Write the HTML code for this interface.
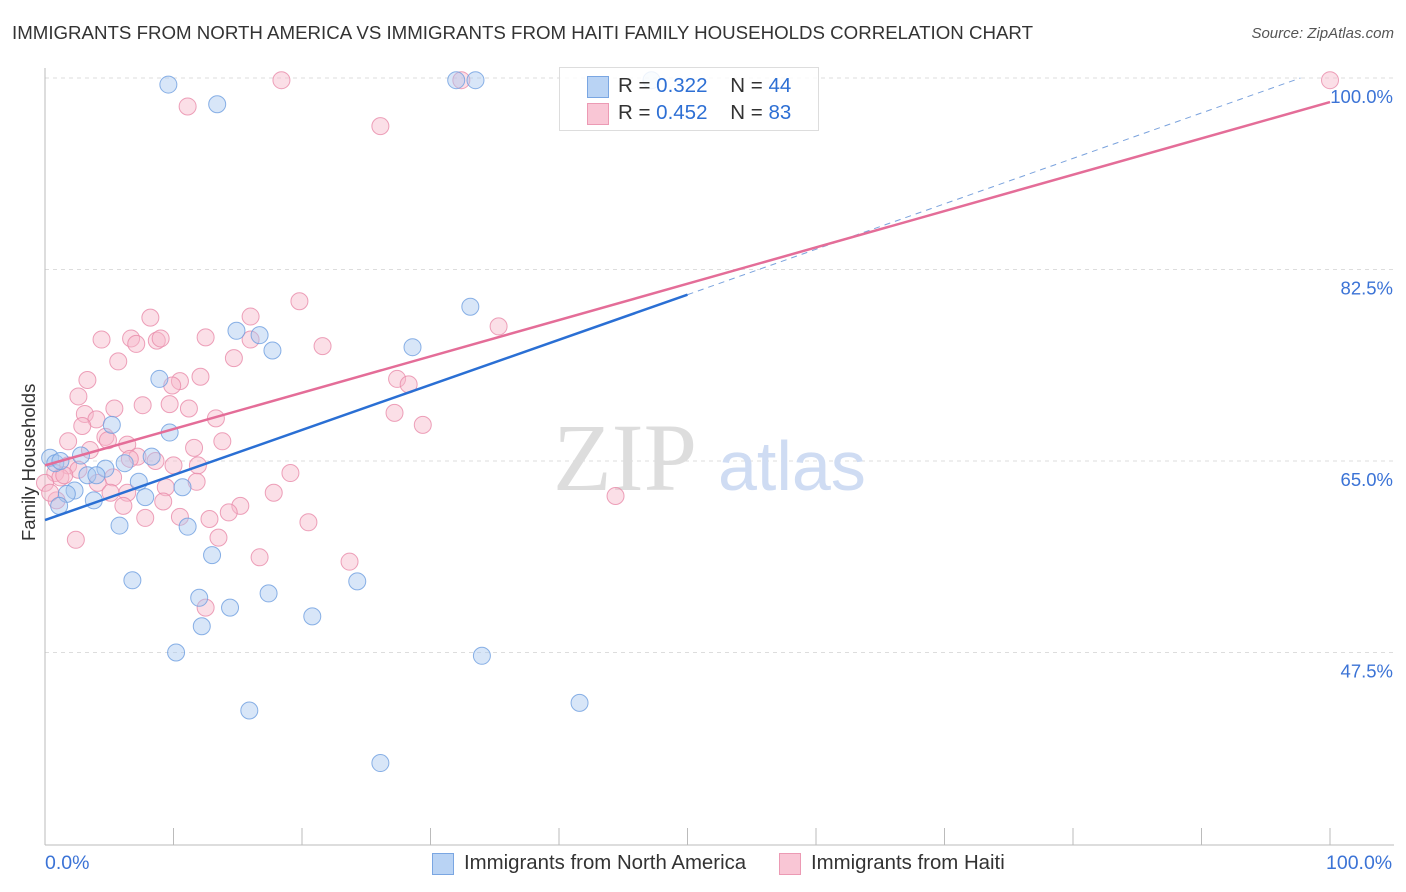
<!DOCTYPE html>
<html><head><meta charset="utf-8">
<style>
body{margin:0;background:#fff;font-family:"Liberation Sans",sans-serif;}
#wrap{position:relative;width:1406px;height:892px;overflow:hidden;}
.t{position:absolute;white-space:nowrap;}
</style></head>
<body>
<div id="wrap">
<div class="t" style="left:12px;top:22px;font-size:18.7px;color:#333">IMMIGRANTS FROM NORTH AMERICA VS IMMIGRANTS FROM HAITI FAMILY HOUSEHOLDS CORRELATION CHART</div>
<div class="t" style="right:12px;top:25px;font-size:15px;color:#555;font-style:italic">Source: ZipAtlas.com</div>
<svg id="svg" width="1406" height="892" style="position:absolute;left:0;top:0"></svg>
</div>
<script>
const yTicks=[100,82.5,65,47.5];
const yTickLabels=["100.0%","82.5%","65.0%","47.5%"];
const blueX=[9.6,13.4,32,33.5,47.2,33.1,14.9,16.7,17.7,28.6,8.9,9.7,5.2,2.8,8.3,6.2,4.7,3.3,4.0,7.3,10.7,2.3,1.7,3.8,7.8,1.1,5.8,11.1,13.0,6.8,24.3,12.0,14.4,17.4,20.8,12.2,10.2,34.0,41.6,15.9,26.1,0.4,0.8,1.2];
const blueY=[99.4,97.6,99.8,99.8,99.8,79.1,76.9,76.5,75.1,75.4,72.5,67.6,68.3,65.5,65.4,64.8,64.3,63.7,63.7,63.1,62.6,62.3,62.0,61.4,61.7,60.9,59.1,59.0,56.4,54.1,54.0,52.5,51.6,52.9,50.8,49.9,47.5,47.2,42.9,42.2,37.4,65.3,64.8,65.0];
const pinkX=[18.4,32.4,100,11.1,26.1,19.8,8.2,35.3,16.0,4.4,6.7,8.7,9.0,7.1,12.5,16.0,21.6,5.7,14.7,3.3,10.5,12.1,9.9,27.4,28.3,2.6,7.6,9.7,5.4,11.2,3.1,4.0,2.9,13.3,27.2,29.4,1.8,4.7,4.9,6.4,11.6,13.8,3.5,7.2,8.6,6.6,10.0,11.9,1.8,2.6,0.8,1.2,1.5,5.3,19.1,4.1,9.4,11.8,6.4,5.1,0.9,9.2,6.1,15.2,14.3,7.8,10.5,12.8,20.5,17.8,44.4,2.4,13.5,16.7,23.7,12.5,0,0.4];
const pinkY=[99.8,99.8,99.8,97.4,95.6,79.6,78.1,77.3,78.2,76.1,76.2,76.0,76.2,75.7,76.3,76.1,75.5,74.1,74.4,72.4,72.3,72.7,71.9,72.5,72.0,70.9,70.1,70.2,69.8,69.8,69.3,68.8,68.2,68.9,69.4,68.3,66.8,67.2,66.9,66.5,66.2,66.8,66.0,65.4,65.0,65.2,64.6,64.6,64.6,64.2,63.9,63.5,63.7,63.5,63.9,63.0,62.6,63.1,62.1,62.1,61.4,61.3,60.9,60.9,60.3,59.8,59.9,59.7,59.4,62.1,61.8,57.8,58.0,56.2,55.8,51.6,63.0,62.1];
const blueLine=[[0,59.6],[50,80.2]];
const blueDash=[[50,80.2],[97.7,100]];
const pinkLine=[[0,64.6],[100,97.8]];
const NS="http://www.w3.org/2000/svg";
const svg=document.getElementById('svg');
const X=v=>45+v*12.85, Y=v=>78+(100-v)*10.943;
function mk(tag,attrs,parent){const e=document.createElementNS(NS,tag);for(const k in attrs)e.setAttribute(k,attrs[k]);(parent||svg).appendChild(e);return e;}
yTicks.forEach((t,i)=>{
 const g=mk('line',{x1:45,x2:1394,y1:Y(t),y2:Y(t),stroke:'#ddd','stroke-dasharray':'4,4'});
 
 
 const tx=mk('text',{x:1393,y:Y(t)+25,'text-anchor':'end','font-size':18.5,fill:'#3b73d6','font-family':'Liberation Sans'});
 tx.textContent=yTickLabels[i];
 
 
});
const ax=mk('line',{x1:45,x2:1394,y1:845,y2:845,stroke:'#bbb'});


const ay=mk('line',{x1:45,x2:45,y1:68,y2:845,stroke:'#bbb'});


for(let i=0;i<=10;i++){const tk=mk('line',{x1:X(i*10),x2:X(i*10),y1:828,y2:845,stroke:'#bbb'});
 
 }
const wm=mk('text',{x:553,y:490,'font-size':96,fill:'#ddd','font-family':'Liberation Serif'});wm.textContent='ZIP';


const wm2=mk('text',{x:718,y:490,'font-size':70,fill:'#cfdcf3','font-family':'Liberation Sans'});wm2.textContent='atlas';


function pts(xs,ys,fill,stroke,name){xs.forEach((x,i)=>{const c=mk('circle',{cx:X(x),cy:Y(ys[i]),r:8.5,fill:fill,'fill-opacity':0.45,stroke:stroke,'stroke-opacity':0.8,'stroke-width':1});
 
 });}
pts(pinkX,pinkY,'#f6b7ca','#e98aa9','haiti-point');
pts(blueX,blueY,'#a8c7f0','#6d9de0','north-america-point');
function ln(p,col,w,dash,name){const l=mk('line',{x1:X(p[0][0]),y1:Y(p[0][1]),x2:X(p[1][0]),y2:Y(p[1][1]),stroke:col,'stroke-width':w});if(dash)l.setAttribute('stroke-dasharray',dash);
 
 }
ln(blueDash,'#7aa2dd',1,'6,5','north-america-trend-extension');
ln(pinkLine,'#e46d98',2.5,null,'haiti-trend-line');
ln(blueLine,'#2a6fd4',2.5,null,'north-america-trend-line');
</script>
<div class="t" style="left:559px;top:67px;width:258px;height:62px;border:1px solid #ddd;background:rgba(255,255,255,0.85)">
 <div style="position:absolute;left:27px;top:8px;width:20px;height:20px;background:#b9d3f4;border:1px solid #7aa6e2"></div>
 <div style="position:absolute;left:58px;top:6px;font-size:20.5px;color:#333">R = <span style="color:#2d6fd4">0.322</span>&nbsp;&nbsp;&nbsp; N = <span style="color:#2d6fd4">44</span></div>
 <div style="position:absolute;left:27px;top:35px;width:20px;height:20px;background:#f9c6d5;border:1px solid #ec9ab4"></div>
 <div style="position:absolute;left:58px;top:33px;font-size:20.5px;color:#333">R = <span style="color:#2d6fd4">0.452</span>&nbsp;&nbsp;&nbsp; N = <span style="color:#2d6fd4">83</span></div>
</div>
<div class="t" style="left:18px;top:541px;font-size:18.5px;color:#333;transform:rotate(-90deg);transform-origin:0 0">Family Households</div>
<div class="t" style="left:45px;top:852px;font-size:19.5px;color:#3b73d6">0.0%</div>
<div class="t" style="left:1326px;top:852px;font-size:19.5px;color:#3b73d6">100.0%</div>
<div class="t" style="left:432px;top:853px;width:20px;height:20px;background:#b9d3f4;border:1px solid #7aa6e2"></div>
<div class="t" style="left:464px;top:852px;font-size:20.4px;color:#333">Immigrants from North America</div>
<div class="t" style="left:779px;top:853px;width:20px;height:20px;background:#f9c6d5;border:1px solid #ec9ab4"></div>
<div class="t" style="left:811px;top:852px;font-size:20.4px;color:#333">Immigrants from Haiti</div>
</body></html>
